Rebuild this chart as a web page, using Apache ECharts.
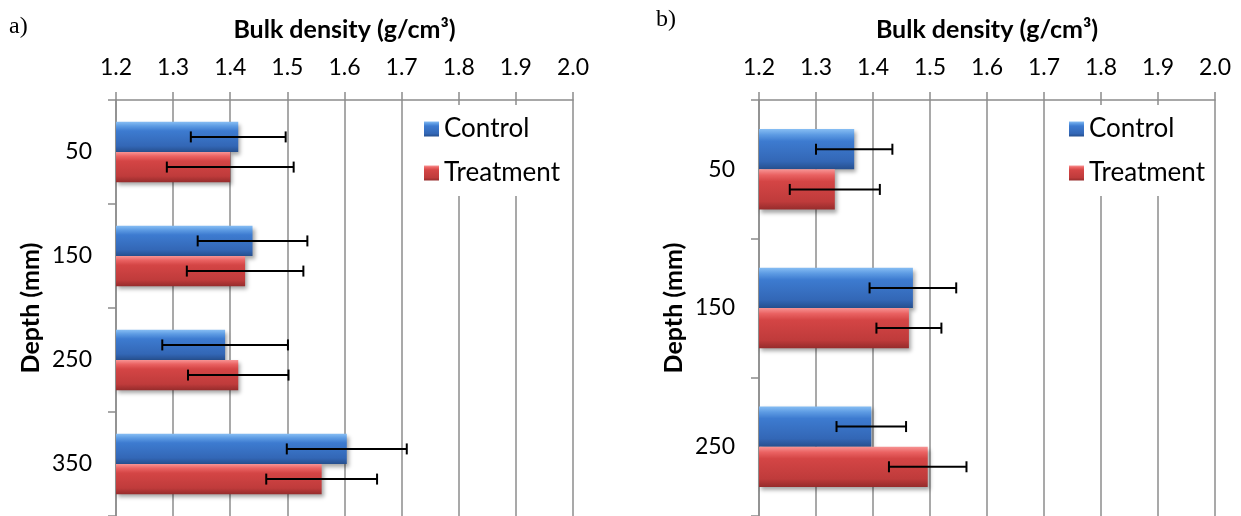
<!DOCTYPE html>
<html><head><meta charset="utf-8">
<script src="https://cdn.jsdelivr.net/npm/echarts@6/dist/echarts.min.js"></script>
<style>html,body{margin:0;padding:0;background:#fff}#c{width:1241px;height:516px}</style>
</head><body><div id="c"></div>
<script>
// Panel a)
const depthsA = ['50', '150', '250', '350'];
const controlA = [1.414, 1.439, 1.391, 1.604];
const treatA = [1.400, 1.426, 1.414, 1.560];
const controlErrA = [0.083, 0.096, 0.110, 0.105];
const treatErrA = [0.111, 0.102, 0.088, 0.097];
// Panel b)
const depthsB = ['50', '150', '250'];
const controlB = [1.367, 1.470, 1.397];
const treatB = [1.333, 1.463, 1.496];
const controlErrB = [0.067, 0.076, 0.061];
const treatErrB = [0.079, 0.057, 0.068];
// Axis
const xMin = 1.2, xMax = 2.0, xStep = 0.1;
const xTitle = 'Bulk density (g/cm³)';
const yTitle = 'Depth (mm)';

const FONT = 'Lato';
const GRAY = '#8c8c8c';
const blueGrad = new echarts.graphic.LinearGradient(0, 0, 0, 1, [
  {offset: 0, color: '#86bdf3'}, {offset: 0.14, color: '#5d9be3'},
  {offset: 0.3, color: '#3d7bd0'}, {offset: 0.8, color: '#3367b6'},
  {offset: 1, color: '#264f8e'}]);
const redGrad = new echarts.graphic.LinearGradient(0, 0, 0, 1, [
  {offset: 0, color: '#f79494'}, {offset: 0.14, color: '#ea6262'},
  {offset: 0.3, color: '#d44545'}, {offset: 0.8, color: '#bf3b3b'},
  {offset: 1, color: '#962c2c'}]);

function errRender(sign) {
  return function (params, api) {
    const cat = api.value(0), v = api.value(1), e = api.value(2);
    const band = api.size([0, 1])[1];
    const dy = sign * band * 0.145;
    const p1 = api.coord([v - e, cat]);
    const p2 = api.coord([v + e, cat]);
    const y = p1[1] + dy;
    const h = 5.5;
    const style = {stroke: '#000', lineWidth: 2};
    return {type: 'group', children: [
      {type: 'line', shape: {x1: p1[0], y1: y, x2: p2[0], y2: y}, style: style},
      {type: 'line', shape: {x1: p1[0], y1: y - h, x2: p1[0], y2: y + h}, style: style},
      {type: 'line', shape: {x1: p2[0], y1: y - h, x2: p2[0], y2: y + h}, style: style}
    ]};
  };
}
function errData(vals, errs) { return vals.map((v, i) => [i, v, errs[i]]); }

function xAxisDef(gi) {
  return {
    gridIndex: gi, type: 'value', position: 'top', min: xMin, max: xMax, interval: xStep,
    name: xTitle, nameLocation: 'middle', nameGap: 58,
    nameTextStyle: {fontFamily: FONT, fontSize: 25, fontWeight: 'bold', color: '#000'},
    axisLine: {show: true, lineStyle: {color: GRAY, width: 1.5}},
    axisTick: {show: true, length: 8, lineStyle: {color: GRAY, width: 1.5}},
    axisLabel: {fontFamily: FONT, fontSize: 23, color: '#000', margin: 21,
      formatter: v => v.toFixed(1)},
    splitLine: {show: true, lineStyle: {color: GRAY, width: 1.5}}
  };
}
function yAxisDef(gi, cats) {
  return {
    gridIndex: gi, type: 'category', inverse: true, data: cats,
    name: yTitle, nameLocation: 'middle', nameGap: 73, nameRotate: 90,
    nameTextStyle: {fontFamily: FONT, fontSize: 25, fontWeight: 'bold', color: '#000'},
    axisLine: {show: true, lineStyle: {color: GRAY, width: 1.5}},
    axisTick: {show: true, length: 8, lineStyle: {color: GRAY, width: 1.5}},
    axisLabel: {fontFamily: FONT, fontSize: 23, color: '#000', margin: 24},
    splitLine: {show: false}
  };
}
function barSeries(name, gi, data, grad) {
  return {
    name: name, type: 'bar', xAxisIndex: gi, yAxisIndex: gi, data: data,
    barGap: '0%', barCategoryGap: '42%',
    itemStyle: {color: grad, shadowBlur: 4, shadowColor: 'rgba(0,0,0,0.35)',
      shadowOffsetX: 2, shadowOffsetY: 3},
    emphasis: {disabled: true}
  };
}
function errSeries(gi, vals, errs, sign) {
  return {
    type: 'custom', xAxisIndex: gi, yAxisIndex: gi, z: 5,
    data: errData(vals, errs), encode: {x: 1, y: 0},
    renderItem: errRender(sign), silent: true
  };
}
function legendDef(left) {
  return {
    data: ['Control', 'Treatment'], orient: 'vertical', left: left, top: 105,
    backgroundColor: '#fff', padding: [10, 8, 9, 9], itemGap: 16,
    itemWidth: 15, itemHeight: 15, icon: 'rect',
    textStyle: {fontFamily: FONT, fontSize: 26, color: '#000', lineHeight: 28}
  };
}

const chart = echarts.init(document.getElementById('c'), null, {renderer: 'canvas'});
chart.setOption({
  animation: false,
  backgroundColor: '#fff',
  grid: [
    {left: 116, top: 100, width: 457, height: 423},
    {left: 759, top: 100, width: 456, height: 422}
  ],
  xAxis: [xAxisDef(0), xAxisDef(1)],
  yAxis: [yAxisDef(0, depthsA), yAxisDef(1, depthsB)],
  legend: [legendDef(415), legendDef(1060)],
  graphic: [
    {type: 'text', left: 9, top: 15, style: {text: 'a)', font: '24px "Liberation Serif"', fill: '#000'}},
    {type: 'text', left: 656, top: 8, style: {text: 'b)', font: '24px "Liberation Serif"', fill: '#000'}}
  ],
  series: [
    barSeries('Control', 0, controlA, blueGrad),
    barSeries('Treatment', 0, treatA, redGrad),
    errSeries(0, controlA, controlErrA, -1),
    errSeries(0, treatA, treatErrA, 1),
    barSeries('Control', 1, controlB, blueGrad),
    barSeries('Treatment', 1, treatB, redGrad),
    errSeries(1, controlB, controlErrB, -1),
    errSeries(1, treatB, treatErrB, 1)
  ]
});
</script></body></html>
